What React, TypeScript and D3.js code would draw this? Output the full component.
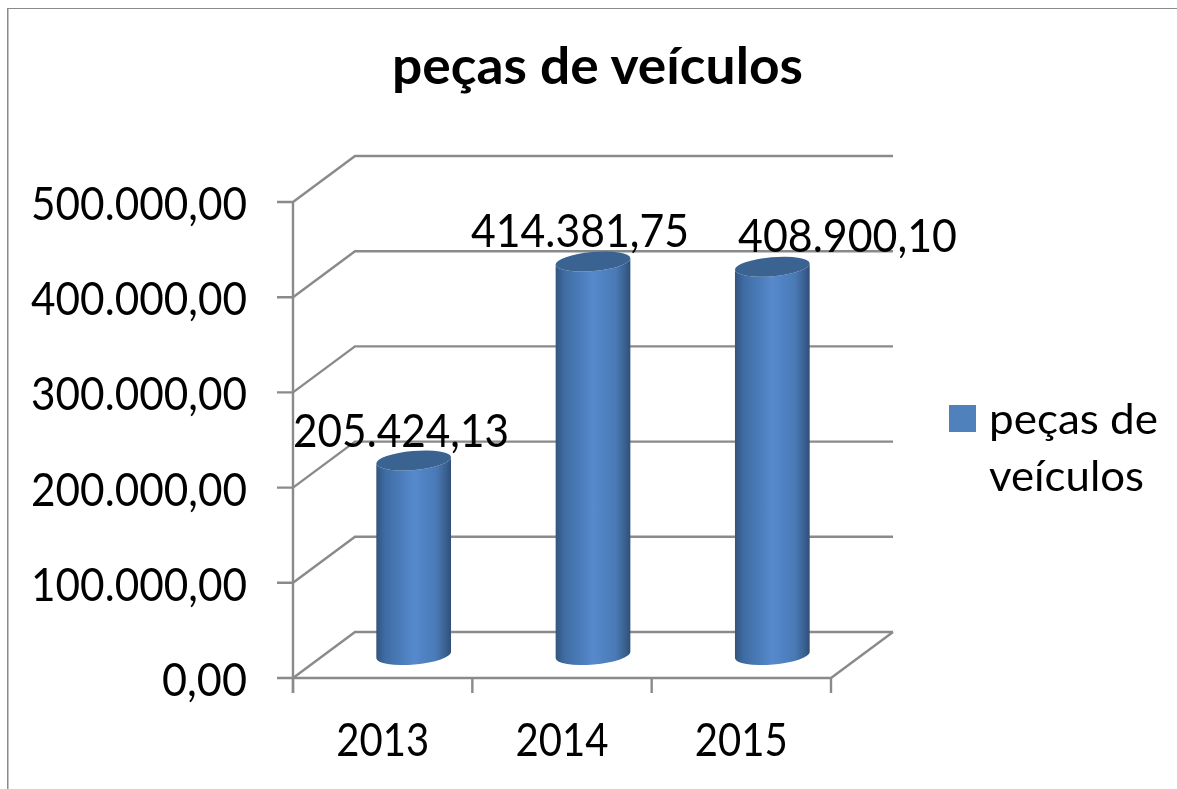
import React from "react";
import * as d3 from "d3";

const categories = ["2013", "2014", "2015"];
const seriesValues = [205424.13, 414381.75, 408900.1];
const valueLabels = ["205.424,13", "414.381,75", "408.900,10"];
const yTicks = [0, 100000, 200000, 300000, 400000, 500000];
const yTickLabels = ["0,00", "100.000,00", "200.000,00", "300.000,00", "400.000,00", "500.000,00"];
const titleText = "peças de veículos";
const legendLines = ["peças de", "veículos"];

const W = 1177, H = 789;
const FONT = "Lato, Carlito, 'Open Sans', sans-serif";
const AXIS = "#8a8a8a";
const dx = 62, dy = -46;
const y = d3.scaleLinear().domain([0, 500000]).range([678, 202]);
const x = d3.scaleBand().domain(categories).range([293, 831]);
const labelPos = [
  { x: 293, y: 447, w: 216 },
  { x: 471, y: 247, w: 218 },
  { x: 738, y: 252, w: 219 },
];

function Cylinder({ cat, value }: { cat: string; value: number }) {
  const cx = x(cat)! + x.bandwidth() / 2 + dx / 2;
  const rx = 37.5, ry = 9.5, tilt = -5;
  const base = y(0) + dy / 2;
  const top = y(value) + dy / 2 + 1;
  const t = (tilt * Math.PI) / 180;
  const ox = rx * Math.cos(t), oy = rx * Math.sin(t);
  const body = `M${cx - ox},${top - oy} L${cx - ox},${base - oy} A${rx},${ry} ${tilt} 0 0 ${cx + ox},${base + oy} L${cx + ox},${top + oy} A${rx},${ry} ${tilt} 0 1 ${cx - ox},${top - oy} Z`;
  return (
    <g>
      <path d={body} fill="url(#cyl)" />
      <ellipse cx={cx} cy={top} rx={rx} ry={ry} transform={`rotate(${tilt} ${cx} ${top})`} fill="#3b6392" />
    </g>
  );
}

export default function App() {
  return (
    <svg width={W} height={H} viewBox={`0 0 ${W} ${H}`} style={{ position: "absolute", left: 0, top: 0, display: "block", background: "#fff" }}>
      <defs>
        <linearGradient id="cyl" x1="0" x2="1" y1="0" y2="0">
          <stop offset="0" stopColor="#33557f" />
          <stop offset="0.12" stopColor="#3f6ca3" />
          <stop offset="0.5" stopColor="#5689cd" />
          <stop offset="0.8" stopColor="#4a7ab6" />
          <stop offset="0.93" stopColor="#3a6090" />
          <stop offset="1" stopColor="#2f4f78" />
        </linearGradient>
        <filter id="soft" x="0" y="0" width="100%" height="100%">
          <feGaussianBlur stdDeviation="0.5" />
        </filter>
      </defs>
      <g filter="url(#soft)">
        <path d={`M${W + 2},8 L7.5,8 L7.5,${H + 2}`} fill="none" stroke={AXIS} strokeWidth={2} />
        <text x={597.5} y={84} textAnchor="middle" fontFamily={FONT} fontWeight={700} fontSize={52} textLength={411} lengthAdjust="spacingAndGlyphs" fill="#000">{titleText}</text>

        {yTicks.map((t) => (
          <path key={t} d={`M277,${y(t)} L293,${y(t)} L${293 + dx},${y(t) + dy} L${831 + dx},${y(t) + dy}`} fill="none" stroke={AXIS} strokeWidth={2.4} />
        ))}
        <path d={`M293,202 L293,693`} stroke={AXIS} strokeWidth={2.4} fill="none" />
        <path d={`M293,678 L831,678 L${831 + dx},${678 + dy}`} stroke={AXIS} strokeWidth={2.4} fill="none" />
        {[...categories.map((c) => x(c)!), 831].map((px) => (
          <line key={px} x1={px} x2={px} y1={678} y2={693} stroke={AXIS} strokeWidth={2.4} />
        ))}

        {categories.map((c, i) => <Cylinder key={c} cat={c} value={seriesValues[i]} />)}

        {yTicks.map((t, i) => {
          const s = yTickLabels[i];
          const w = s.length === 4 ? 85 : 216;
          return <text key={t} x={247} y={y(t) + 18} textAnchor="end" fontFamily={FONT} fontSize={47} textLength={w} lengthAdjust="spacingAndGlyphs" fill="#000">{s}</text>;
        })}
        {categories.map((c) => (
          <text key={c} x={x(c)! + x.bandwidth() / 2} y={756} textAnchor="middle" fontFamily={FONT} fontSize={47} textLength={93} lengthAdjust="spacingAndGlyphs" fill="#000">{c}</text>
        ))}
        {valueLabels.map((s, i) => (
          <text key={s} x={labelPos[i].x} y={labelPos[i].y} fontFamily={FONT} fontSize={47} textLength={labelPos[i].w} lengthAdjust="spacingAndGlyphs" fill="#000">{s}</text>
        ))}

        <rect x={949} y={405} width={27} height={27} fill="#4f81bd" />
        <text x={989} y={434} fontFamily={FONT} fontSize={42} textLength={169} lengthAdjust="spacingAndGlyphs" fill="#000">{legendLines[0]}</text>
        <text x={989} y={491} fontFamily={FONT} fontSize={42} textLength={155} lengthAdjust="spacingAndGlyphs" fill="#000">{legendLines[1]}</text>
      </g>
    </svg>
  );
}
